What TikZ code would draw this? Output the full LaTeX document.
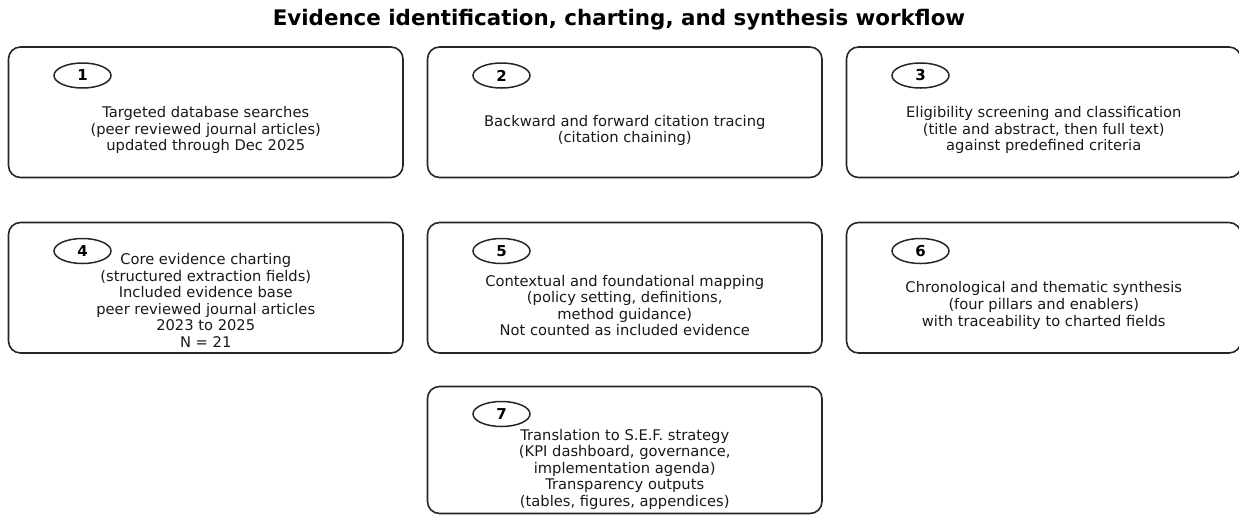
\documentclass[tikz,border=0pt]{standalone}
\usepackage{fontspec}
\setmainfont{DejaVu Sans}
\usetikzlibrary{shapes.geometric}
\tikzset{
  stepbox/.style={draw=black!85, line width=1.6pt, rounded corners=12pt},
  numoval/.style={draw=black!85, line width=1.5pt, ellipse, minimum width=57pt, minimum height=25pt, inner sep=0pt, font=\fontsize{15}{17}\selectfont\bfseries},
  body/.style={align=center, inner sep=0pt, font=\fontsize{14.7}{16.6}\selectfont, text=black!90},
}
\begin{document}
\begin{tikzpicture}[x=1pt,y=-1pt]
\useasboundingbox (0,0) rectangle (1239,515);
\node[font=\fontsize{21.4}{24}\selectfont\bfseries] (title) at (619,20) {Evidence identification, charting, and synthesis workflow};
% row 1
\draw[stepbox] (8.5,47) rectangle (403,177.5);
\draw[stepbox] (427.5,47) rectangle (822,177.5);
\draw[stepbox] (846.5,47) rectangle (1241,177.5);
% row 2
\draw[stepbox] (8.5,222.5) rectangle (403,353);
\draw[stepbox] (427.5,222.5) rectangle (822,353);
\draw[stepbox] (846.5,222.5) rectangle (1241,353);
% row 3
\draw[stepbox] (427.5,386.5) rectangle (822,513.5);
% numbers
\node[numoval] (n1) at (82.5,75.5) {1};
\node[numoval] (n2) at (501.5,75.5) {2};
\node[numoval] (n3) at (920.5,75.5) {3};
\node[numoval] (n4) at (82.5,251) {4};
\node[numoval] (n5) at (501.5,251) {5};
\node[numoval] (n6) at (920.5,251) {6};
\node[numoval] (n7) at (501.5,414) {7};
% texts
\node[body] (t1) at (205.75,130.3) {Targeted database searches\\(peer reviewed journal articles)\\updated through Dec 2025};
\node[body] (t2) at (624.75,130.3) {Backward and forward citation tracing\\(citation chaining)};
\node[body] (t3) at (1043.75,130.3) {Eligibility screening and classification\\(title and abstract, then full text)\\against predefined criteria};
\node[body] (t4) at (205.75,300.5) {Core evidence charting\\(structured extraction fields)\\Included evidence base\\peer reviewed journal articles\\2023 to 2025\\N = 21};
\node[body] (t5) at (624.75,305.5) {Contextual and foundational mapping\\(policy setting, definitions,\\method guidance)\\Not counted as included evidence};
\node[body] (t6) at (1043.75,305.5) {Chronological and thematic synthesis\\(four pillars and enablers)\\with traceability to charted fields};
\node[body] (t7) at (624.75,469.3) {Translation to S.E.F. strategy\\(KPI dashboard, governance,\\implementation agenda)\\Transparency outputs\\(tables, figures, appendices)};
\end{tikzpicture}
\end{document}
